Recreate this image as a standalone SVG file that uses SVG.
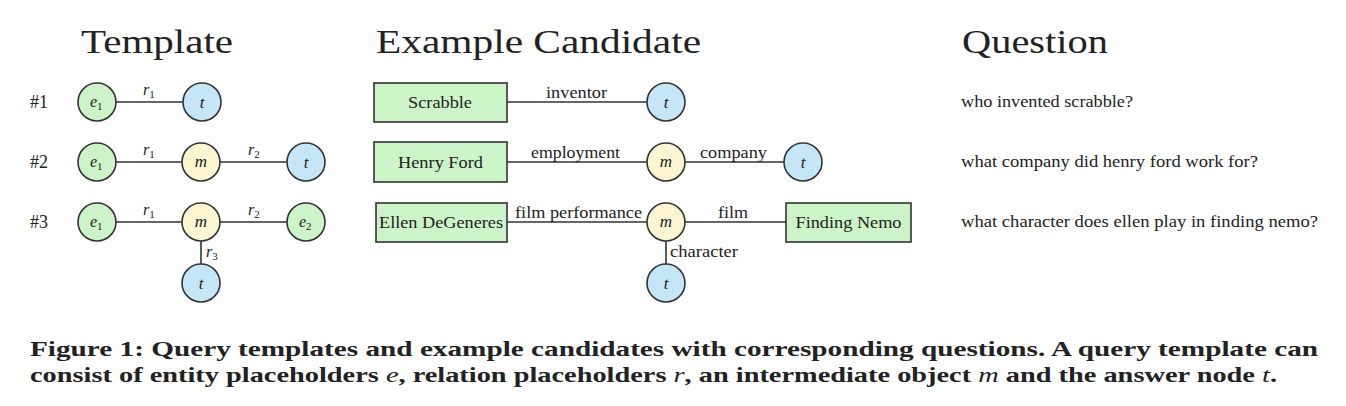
<svg xmlns="http://www.w3.org/2000/svg" width="1346" height="406" viewBox="0 0 1346 406">
<style>
text{font-family:"Liberation Serif","DejaVu Serif",serif;fill:#222}
.h{font-size:33px}
.g{fill:#cdf3c8;stroke:#333;stroke-width:1.6}
.b{fill:#c4e6f6;stroke:#333;stroke-width:1.6}
.y{fill:#fbf5d2;stroke:#333;stroke-width:1.6}
.m{font-style:italic;font-size:17px;text-anchor:middle}
.r{font-style:italic;font-size:16px}
.sub{font-size:11px}
.l{font-size:17px;text-anchor:middle}
.bx{font-size:17px;text-anchor:middle}
.q{font-size:16.5px}
.c{font-size:21px;font-weight:bold}
.e{stroke:#333;stroke-width:1.6;fill:none}
</style>
<rect width="1346" height="406" fill="#fff"/>
<text class="h" x="81" y="53" textLength="152" lengthAdjust="spacingAndGlyphs">Template</text>
<text class="h" x="376" y="53" textLength="325" lengthAdjust="spacingAndGlyphs">Example Candidate</text>
<text class="h" x="962" y="53" textLength="146" lengthAdjust="spacingAndGlyphs">Question</text>
<text x="30" y="108" font-size="18">#1</text>
<text x="30" y="168" font-size="18">#2</text>
<text x="30" y="228" font-size="18">#3</text>
<g id="connectors">
<line class="e" x1="116" y1="102" x2="183" y2="102"/>
<line class="e" x1="116" y1="162" x2="182" y2="162"/>
<line class="e" x1="220" y1="162" x2="287" y2="162"/>
<line class="e" x1="116" y1="222" x2="182" y2="222"/>
<line class="e" x1="220" y1="222" x2="287" y2="222"/>
<line class="e" x1="201" y1="241" x2="201" y2="264"/>
<line class="e" x1="507" y1="102" x2="647" y2="102"/>
<line class="e" x1="507" y1="162" x2="647" y2="162"/>
<line class="e" x1="685" y1="162" x2="784" y2="162"/>
<line class="e" x1="507" y1="222" x2="647" y2="222"/>
<line class="e" x1="685" y1="222" x2="786" y2="222"/>
<line class="e" x1="666" y1="241" x2="666" y2="264"/>
</g>
<g id="edge-labels">
<text x="143" y="95"><tspan class="r">r</tspan><tspan class="sub" dy="3">1</tspan></text>
<text x="143" y="155"><tspan class="r">r</tspan><tspan class="sub" dy="3">1</tspan></text>
<text x="248" y="155"><tspan class="r">r</tspan><tspan class="sub" dy="3">2</tspan></text>
<text x="143" y="215"><tspan class="r">r</tspan><tspan class="sub" dy="3">1</tspan></text>
<text x="248" y="215"><tspan class="r">r</tspan><tspan class="sub" dy="3">2</tspan></text>
<text x="206" y="257"><tspan class="r">r</tspan><tspan class="sub" dy="3">3</tspan></text>
<text class="l" x="576.5" y="98" textLength="61" lengthAdjust="spacingAndGlyphs">inventor</text>
<text class="l" x="575.5" y="158" textLength="89" lengthAdjust="spacingAndGlyphs">employment</text>
<text class="l" x="733.5" y="158" textLength="67" lengthAdjust="spacingAndGlyphs">company</text>
<text class="l" x="578.5" y="218" textLength="127" lengthAdjust="spacingAndGlyphs">film performance</text>
<text class="l" x="733" y="218" textLength="30" lengthAdjust="spacingAndGlyphs">film</text>
<text x="670" y="257" font-size="17" textLength="68" lengthAdjust="spacingAndGlyphs">character</text>
</g>
<g id="t1-e1"><circle class="g" cx="97" cy="102" r="19"/><text x="90" y="107"><tspan class="r" font-size="17">e</tspan><tspan class="sub" dy="3">1</tspan></text></g>
<g id="t1-t"><circle class="b" cx="202" cy="102" r="19"/><text class="m" x="202" y="108">t</text></g>
<g id="t2-e1"><circle class="g" cx="97" cy="162" r="19"/><text x="90" y="167"><tspan class="r" font-size="17">e</tspan><tspan class="sub" dy="3">1</tspan></text></g>
<g id="t2-m"><circle class="y" cx="201" cy="162" r="19"/><text class="m" x="201" y="167">m</text></g>
<g id="t2-t"><circle class="b" cx="306" cy="162" r="19"/><text class="m" x="306" y="168">t</text></g>
<g id="t3-e1"><circle class="g" cx="97" cy="222" r="19"/><text x="90" y="227"><tspan class="r" font-size="17">e</tspan><tspan class="sub" dy="3">1</tspan></text></g>
<g id="t3-m"><circle class="y" cx="201" cy="222" r="19"/><text class="m" x="201" y="227">m</text></g>
<g id="t3-e2"><circle class="g" cx="306" cy="222" r="19"/><text x="299" y="227"><tspan class="r" font-size="17">e</tspan><tspan class="sub" dy="3">2</tspan></text></g>
<g id="t3-t"><circle class="b" cx="201" cy="283" r="19"/><text class="m" x="201" y="289">t</text></g>
<g id="c1-scrabble"><rect class="g" x="374" y="83" width="133" height="39"/><text class="bx" x="440" y="108" textLength="64" lengthAdjust="spacingAndGlyphs">Scrabble</text></g>
<g id="c1-t"><circle class="b" cx="666" cy="102" r="19"/><text class="m" x="666" y="108">t</text></g>
<g id="c2-henry"><rect class="g" x="374" y="142" width="133" height="40"/><text class="bx" x="440.5" y="168" textLength="85" lengthAdjust="spacingAndGlyphs">Henry Ford</text></g>
<g id="c2-m"><circle class="y" cx="666" cy="162" r="19"/><text class="m" x="666" y="167">m</text></g>
<g id="c2-t"><circle class="b" cx="803" cy="162" r="19"/><text class="m" x="803" y="168">t</text></g>
<g id="c3-ellen"><rect class="g" x="376" y="203" width="131" height="39"/><text class="bx" x="441" y="228" textLength="124" lengthAdjust="spacingAndGlyphs">Ellen DeGeneres</text></g>
<g id="c3-m"><circle class="y" cx="666" cy="222" r="19"/><text class="m" x="666" y="227">m</text></g>
<g id="c3-nemo"><rect class="g" x="786" y="203" width="125" height="39"/><text class="bx" x="848.5" y="228" textLength="106" lengthAdjust="spacingAndGlyphs">Finding Nemo</text></g>
<g id="c3-t"><circle class="b" cx="666" cy="283" r="19"/><text class="m" x="666" y="289">t</text></g>
<g id="questions">
<text class="q" x="961" y="107" textLength="172" lengthAdjust="spacingAndGlyphs">who invented scrabble?</text>
<text class="q" x="961" y="167" textLength="297" lengthAdjust="spacingAndGlyphs">what company did henry ford work for?</text>
<text class="q" x="961" y="227" textLength="357" lengthAdjust="spacingAndGlyphs">what character does ellen play in finding nemo?</text>
</g>
<text class="c" x="30" y="356" textLength="1288" lengthAdjust="spacingAndGlyphs">Figure 1:  Query templates and example candidates with corresponding questions.  A query template can</text>
<text class="c" x="30" y="382" textLength="1247" lengthAdjust="spacingAndGlyphs">consist of entity placeholders <tspan font-style="italic" font-weight="normal">e</tspan>, relation placeholders <tspan font-style="italic" font-weight="normal">r</tspan>, an intermediate object <tspan font-style="italic" font-weight="normal">m</tspan> and the answer node <tspan font-style="italic" font-weight="normal">t</tspan>.</text>
</svg>
